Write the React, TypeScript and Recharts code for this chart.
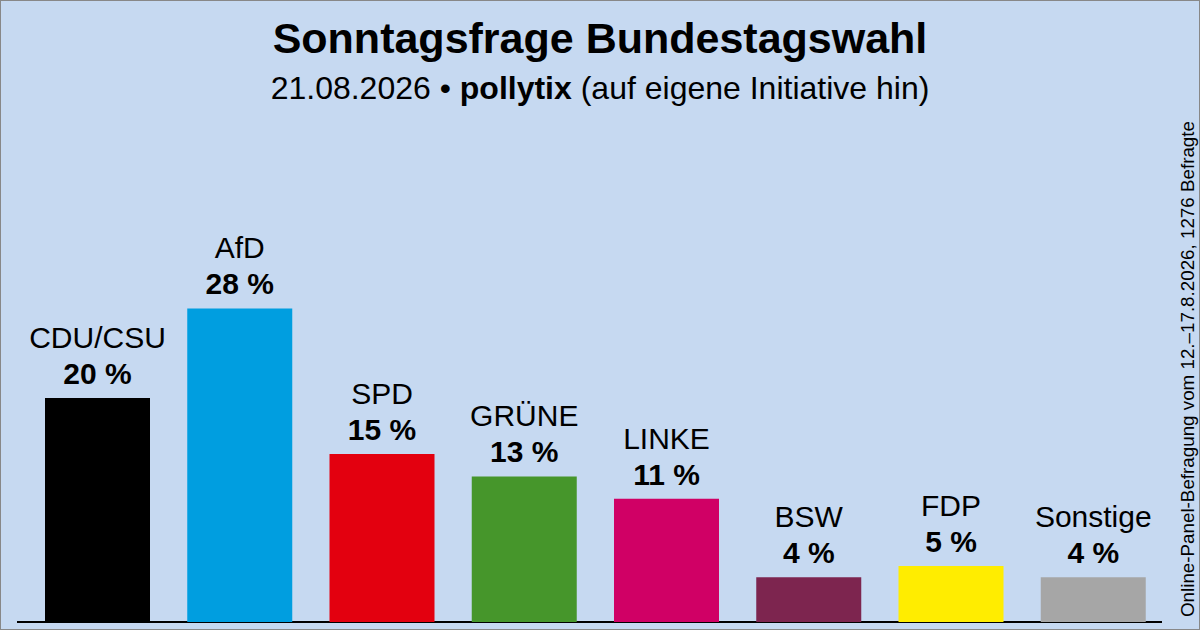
import React from "react";
import { Bar, BarChart, Cell, LabelList, XAxis, YAxis } from "recharts";

const parties = ["CDU/CSU", "AfD", "SPD", "GRÜNE", "LINKE", "BSW", "FDP", "Sonstige"];
const shares = [20, 28, 15, 13, 11, 4, 5, 4];
const colors = ["#000000", "#009EE0", "#E3000F", "#46962B", "#D00065", "#7D254F", "#FFED00", "#A6A6A6"];

const data = parties.map((name, i) => ({ name, value: shares[i] }));

const font = "'Liberation Sans', Arial, sans-serif";

const renderLabel = (props: any) => {
  const { x, y, width, index } = props;
  const cx = x + width / 2;
  return (
    <g>
      <text x={cx} y={y - 50} textAnchor="middle" fontSize={30} fontFamily={font} fill="#000">
        {parties[index]}
      </text>
      <text x={cx} y={y - 14} textAnchor="middle" fontSize={30} fontWeight="bold" fontFamily={font} fill="#000">
        {shares[index]} %
      </text>
    </g>
  );
};

export default function App() {
  return (
    <div
      style={{
        position: "absolute",
        left: 0,
        top: 0,
        width: 1200,
        height: 630,
        boxSizing: "border-box",
        border: "1px solid #888",
        background: "#C6D9F1",
        fontFamily: font,
        overflow: "hidden",
      }}
    >
      <div style={{ position: "absolute", top: 12, width: "100%", textAlign: "center", fontSize: 43, fontWeight: "bold", lineHeight: "50px" }}>
        Sonntagsfrage Bundestagswahl
      </div>
      <div style={{ position: "absolute", top: 68, width: "100%", textAlign: "center", fontSize: 32, lineHeight: "38px" }}>
        21.08.2026 • <b>pollytix</b> (auf eigene Initiative hin)
      </div>
      <div
        style={{
          position: "absolute",
          left: 1187,
          top: 368,
          transform: "translate(-50%, -50%) rotate(-90deg)",
          whiteSpace: "nowrap",
          fontSize: 18.8,
        }}
      >
        Online-Panel-Befragung vom 12.–17.8.2026, 1276 Befragte
      </div>
      <div style={{ position: "absolute", left: 16, top: 620, width: 1145, height: 2, background: "#000" }} />
      <div style={{ position: "absolute", left: 0, top: 0 }}>
        <BarChart width={1163} height={630} data={data} margin={{ top: 61, bottom: 9, left: 25, right: 0 }}>
          <XAxis dataKey="name" hide />
          <YAxis hide domain={[0, 50]} />
          <Bar dataKey="value" barSize={105} isAnimationActive={false}>
            {data.map((d, i) => (
              <Cell key={d.name} fill={colors[i]} />
            ))}
            <LabelList dataKey="value" content={renderLabel} />
          </Bar>
        </BarChart>
      </div>
    </div>
  );
}
